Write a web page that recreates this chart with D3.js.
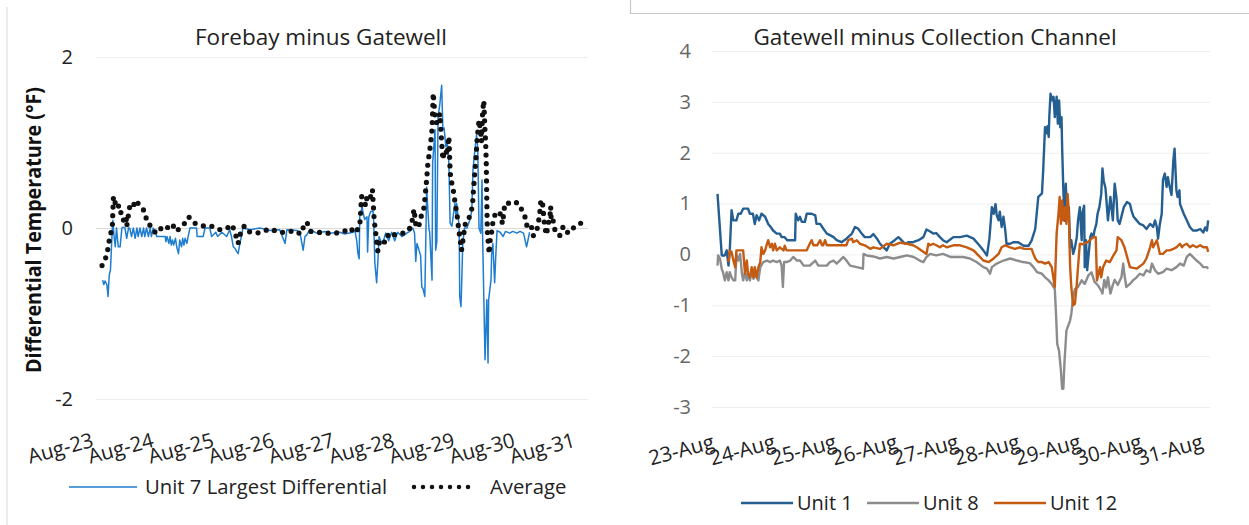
<!DOCTYPE html>
<html>
<head>
<meta charset="utf-8">
<style>
  body { margin: 0; background: #fff; }
  svg { display: block; font-family: "Open Sans", sans-serif; }
</style>
</head>
<body>
<script src="https://cdn.jsdelivr.net/npm/d3@7"></script>
<script>
// ---- data (x = days after Aug-23 00:00) ----
const leftDates = ['Aug-23','Aug-24','Aug-25','Aug-26','Aug-27','Aug-28','Aug-29','Aug-30','Aug-31'];
const rightDates = ['23-Aug','24-Aug','25-Aug','26-Aug','27-Aug','28-Aug','29-Aug','30-Aug','31-Aug'];
const leftTicks = [-2, 0, 2];
const rightTicks = [-3, -2, -1, 0, 1, 2, 3, 4];

const unit7 = [
  [0.11,-0.61],[0.13,-0.66],[0.15,-0.62],[0.18,-0.66],[0.20,-0.8],[0.22,-0.55],[0.24,-0.49],[0.27,-0.02],
  [0.28,0.09],[0.30,-0.1],[0.32,-0.22],[0.34,0],[0.37,-0.22],[0.40,-0.22],[0.43,0],[0.45,0.01],[0.48,0],
  [0.51,-0.12],[0.54,0],[0.56,0],[0.59,-0.1],[0.62,0],[0.65,-0.12],[0.68,0],[0.70,-0.1],[0.73,0],[0.76,-0.1],
  [0.79,0],[0.81,-0.1],[0.84,0],[0.87,-0.1],[0.90,0],[0.92,-0.1],[0.95,0],[0.98,-0.04],[1.01,-0.1],[1.15,-0.1],
  [1.16,-0.16],[1.18,-0.1],[1.21,-0.18],[1.23,-0.1],[1.25,-0.2],[1.27,-0.14],[1.29,-0.2],[1.32,-0.12],[1.34,-0.22],
  [1.37,-0.3],[1.39,-0.14],[1.42,-0.22],[1.44,-0.12],[1.46,-0.2],[1.48,-0.12],[1.51,-0.18],[1.53,-0.1],[1.56,0],
  [1.67,0],[1.68,-0.1],[1.78,-0.1],[1.81,0],[1.89,0],[1.92,-0.1],[1.99,-0.05],[2.02,-0.1],[2.09,-0.05],[2.17,-0.1],
  [2.22,-0.02],[2.25,-0.1],[2.28,-0.22],[2.31,-0.24],[2.34,-0.28],[2.36,-0.3],[2.39,-0.18],[2.42,-0.08],[2.44,0],
  [2.56,-0.02],[2.72,0],[2.89,-0.03],[3.05,-0.02],[3.14,-0.18],[3.17,-0.02],[3.34,-0.03],[3.39,-0.07],[3.44,-0.26],
  [3.47,-0.1],[3.50,-0.08],[3.55,-0.02],[3.67,-0.06],[3.80,-0.04],[3.88,-0.06],[4.05,-0.05],[4.13,-0.07],[4.27,-0.05],
  [4.30,-0.03],[4.33,-0.15],[4.35,-0.3],[4.37,-0.36],[4.38,0.13],[4.42,0.25],[4.43,0.2],[4.46,0.1],[4.50,0.13],
  [4.51,-0.28],[4.53,0.13],[4.56,0.19],[4.60,0.2],[4.61,0.1],[4.63,-0.4],[4.66,-0.64],[4.68,-0.4],[4.70,-0.1],
  [4.73,-0.15],[4.76,-0.18],[4.81,-0.06],[4.86,-0.15],[4.91,-0.05],[4.96,-0.15],[5.01,-0.05],[5.08,-0.1],[5.16,-0.06],
  [5.21,-0.04],[5.26,0],[5.29,-0.06],[5.31,-0.39],[5.33,-0.18],[5.36,-0.25],[5.39,-0.32],[5.41,-0.69],[5.43,-0.71],
  [5.46,-0.8],[5.48,0],[5.49,0.48],[5.53,-0.02],[5.54,-0.04],[5.58,-0.61],[5.59,0.76],[5.63,1.15],[5.64,-0.26],
  [5.66,-0.16],[5.68,1.3],[5.71,1.45],[5.74,1.67],[5.76,1.15],[5.78,1.17],[5.81,0.95],[5.83,1.03],[5.86,0.76],
  [5.88,0.06],[5.91,0.02],[5.93,0.13],[5.96,0.29],[5.98,0.13],[5.99,0.29],[6.03,0.02],[6.04,-0.8],[6.06,-0.92],
  [6.07,-0.72],[6.09,-0.18],[6.12,0],[6.16,0],[6.21,0.1],[6.24,0.2],[6.26,0.68],[6.29,0.9],[6.32,1.09],[6.34,0.93],
  [6.36,0],[6.39,-0.06],[6.41,0.56],[6.42,-0.1],[6.46,-1.54],[6.49,-0.84],[6.51,-1.58],[6.52,-0.84],[6.56,-0.6],
  [6.57,-0.3],[6.59,-0.18],[6.62,-0.64],[6.64,-0.3],[6.66,-0.03],[6.71,-0.05],[6.76,-0.1],[6.80,-0.04],[6.87,-0.06],
  [6.92,-0.04],[6.99,-0.06],[7.04,-0.04],[7.10,-0.06],[7.15,-0.22],[7.20,-0.05]
];

const average = [
  [0.10,-0.44],[0.18,-0.32],[0.23,-0.1],[0.27,0.0],[0.29,0.37],[0.32,0.29],[0.37,0.31],[0.38,0.18],[0.43,0.18],
  [0.46,0.08],[0.50,0.13],[0.51,0.02],[0.56,0.25],[0.61,0.3],[0.65,0.25],[0.68,0.3],[0.73,0.27],[0.81,0.19],
  [0.85,0.06],[0.90,0.03],[0.96,-0.04],[1.03,-0.06],[1.10,0.02],[1.18,0.0],[1.26,0.05],[1.34,-0.04],[1.39,0],
  [1.48,0.06],[1.54,0.13],[1.63,0.06],[1.69,0.04],[1.81,0.02],[1.93,0.02],[2.06,-0.02],[2.16,-0.01],[2.26,0.04],
  [2.31,-0.06],[2.36,-0.18],[2.39,-0.08],[2.46,0.02],[2.51,-0.04],[2.67,-0.06],[2.77,-0.04],[2.89,-0.01],
  [3.04,-0.05],[3.17,-0.05],[3.29,-0.03],[3.40,-0.07],[3.45,0.02],[3.50,0.07],[3.57,-0.04],[3.68,-0.05],
  [3.83,-0.06],[3.98,-0.06],[4.12,-0.04],[4.22,0],[4.30,-0.06],[4.38,0.02],[4.41,0.37],[4.44,0.33],[4.48,0.26],
  [4.50,0.37],[4.55,0.34],[4.59,0.45],[4.62,0.09],[4.68,-0.27],[4.71,-0.14],[4.75,-0.14],[4.80,-0.17],[4.83,-0.1],
  [4.90,-0.05],[4.96,-0.08],[5.10,-0.06],[5.20,-0.02],[5.26,0.11],[5.28,0.22],[5.31,0.05],[5.35,0],[5.39,0.1],
  [5.41,0.17],[5.44,0.21],[5.46,0.33],[5.49,0.56],[5.51,0.75],[5.55,0.95],[5.58,1.15],[5.60,1.58],[5.63,1.3],
  [5.65,1.23],[5.68,1.25],[5.71,1.34],[5.73,1.11],[5.76,0.8],[5.78,0.9],[5.81,0.91],[5.83,0.85],[5.86,1.07],
  [5.88,0.68],[5.89,0.58],[5.93,0.46],[5.96,0.31],[6.00,0.13],[6.02,0],[6.07,-0.26],[6.11,-0.06],[6.12,0.04],
  [6.16,0.05],[6.21,0.15],[6.25,0.25],[6.27,0.46],[6.31,0.82],[6.33,1.05],[6.36,1.26],[6.39,1.13],[6.40,1.01],
  [6.42,1.36],[6.44,1.49],[6.46,1.13],[6.47,1.01],[6.48,0.78],[6.49,0.3],[6.50,-0.06],[6.53,-0.3],[6.55,-0.1],
  [6.58,-0.02],[6.59,0.07],[6.64,0.19],[6.71,0.17],[6.75,0.05],[6.79,0.29],[6.87,0.29],[6.95,0.31],[7.04,0.27],
  [7.09,0.17],[7.14,0.11],[7.16,0],[7.23,0.02],[7.26,-0.09],[7.31,-0.06],[7.34,0.04],[7.37,0.17],[7.38,0.29],
  [7.41,0.33],[7.45,0.02],[7.48,-0.08],[7.51,0.05],[7.54,0.15],[7.55,0.25],[7.56,0.07],[7.59,0.09],[7.62,-0.02],
  [7.67,-0.04],[7.70,-0.09],[7.76,0.02],[7.84,-0.06],[7.92,0],[7.99,0.02],[8.04,0.05],[8.12,0.11]
];

const unit1 = [
  [0.09,1.19],[0.16,-0.02],[0.21,-0.02],[0.24,0.08],[0.27,-0.22],[0.29,0.05],[0.32,0.87],[0.35,0.67],[0.40,0.67],
  [0.43,0.8],[0.47,0.8],[0.51,0.9],[0.59,0.9],[0.62,0.8],[0.67,0.8],[0.70,0.6],[0.73,0.77],[0.77,0.67],[0.81,0.8],
  [0.87,0.74],[0.92,0.6],[0.96,0.54],[1.00,0.47],[1.06,0.41],[1.11,0.41],[1.14,0.34],[1.19,0.34],[1.23,0.28],
  [1.36,0.28],[1.37,0.8],[1.41,0.67],[1.44,0.74],[1.47,0.64],[1.52,0.64],[1.55,0.8],[1.63,0.8],[1.69,0.77],
  [1.71,0.6],[1.77,0.6],[1.82,0.51],[1.88,0.41],[1.93,0.38],[1.99,0.34],[2.04,0.28],[2.12,0.24],[2.20,0.31],
  [2.29,0.41],[2.34,0.54],[2.39,0.51],[2.45,0.41],[2.50,0.34],[2.59,0.34],[2.64,0.4],[2.70,0.31],[2.75,0.21],
  [2.80,0.15],[2.86,0.08],[2.91,0.21],[2.99,0.28],[3.05,0.34],[3.10,0.28],[3.16,0.21],[3.21,0.24],[3.29,0.24],
  [3.38,0.28],[3.46,0.34],[3.51,0.49],[3.57,0.45],[3.62,0.41],[3.67,0.42],[3.73,0.34],[3.78,0.28],[3.84,0.24],
  [3.95,0.34],[4.06,0.34],[4.17,0.37],[4.28,0.31],[4.36,0.2],[4.44,0.08],[4.50,-0.02],[4.54,0.31],[4.58,0.93],
  [4.61,0.8],[4.64,0.99],[4.66,0.77],[4.69,0.67],[4.71,0.84],[4.74,0.54],[4.77,0.74],[4.80,0.47],[4.82,0.21],
  [4.88,0.21],[4.93,0.24],[5.01,0.24],[5.10,0.17],[5.18,0.17],[5.23,0.27],[5.29,0.5],[5.34,1.13],[5.40,1.2],
  [5.42,1.65],[5.45,2.5],[5.47,2.38],[5.49,2.52],[5.51,2.31],[5.52,2.7],[5.54,3.16],[5.57,3.03],[5.59,3.1],
  [5.61,2.7],[5.64,3.1],[5.66,2.57],[5.68,3.03],[5.70,2.5],[5.72,2.7],[5.73,2.11],[5.75,1.26],[5.77,0.66],
  [5.79,1.39],[5.80,1.06],[5.82,0.84],[5.84,0.93],[5.86,0.14],[5.88,0.28],[5.91,0.01],[5.94,0.14],[5.97,0.34],
  [5.99,0.67],[6.02,0.93],[6.05,0.28],[6.06,0.8],[6.09,0.96],[6.10,-0.25],[6.12,0.28],[6.14,-0.31],[6.19,0.34],
  [6.21,0.41],[6.24,0.34],[6.26,0.47],[6.29,0.6],[6.31,0.8],[6.34,0.93],[6.37,1.19],[6.39,1.69],[6.41,1.45],
  [6.44,1.3],[6.48,0.67],[6.52,1.13],[6.56,0.67],[6.59,1.39],[6.62,1.1],[6.64,0.67],[6.67,0.6],[6.74,0.93],
  [6.79,1.03],[6.84,0.99],[6.87,0.84],[6.90,0.74],[6.95,0.67],[7.00,0.6],[7.06,0.57],[7.11,0.5],[7.17,0.6],
  [7.22,0.54],[7.25,0.67],[7.28,0.54],[7.30,0.31],[7.33,0.6],[7.36,0.8],[7.38,1.46],[7.41,1.59],[7.44,1.33],
  [7.46,1.52],[7.49,1.33],[7.52,1.17],[7.55,1.85],[7.57,2.08],[7.60,1.26],[7.62,1.13],[7.65,1.26],[7.66,0.99],
  [7.72,0.8],[7.77,0.67],[7.82,0.54],[7.87,0.47],[7.93,0.47],[7.99,0.5],[8.04,0.43],[8.07,0.53],[8.10,0.47],
  [8.12,0.67]
];

const unit8 = [
  [0.09,-0.22],[0.10,-0.02],[0.13,-0.08],[0.16,-0.29],[0.18,-0.35],[0.21,-0.51],[0.24,-0.35],[0.27,-0.51],
  [0.29,-0.35],[0.32,-0.45],[0.35,-0.51],[0.38,-0.51],[0.40,0.0],[0.43,-0.12],[0.46,0.01],[0.49,-0.38],
  [0.51,-0.51],[0.54,-0.35],[0.57,-0.51],[0.59,-0.38],[0.62,-0.51],[0.65,-0.35],[0.68,-0.48],[0.70,-0.38],
  [0.73,-0.45],[0.76,-0.51],[0.79,-0.25],[0.84,-0.15],[0.90,-0.12],[0.95,-0.15],[1.00,-0.12],[1.06,-0.15],
  [1.11,-0.12],[1.14,-0.22],[1.16,-0.64],[1.18,-0.15],[1.22,-0.15],[1.28,-0.12],[1.33,-0.05],[1.39,-0.12],
  [1.44,-0.12],[1.50,-0.22],[1.60,-0.22],[1.69,-0.12],[1.74,-0.22],[1.88,-0.22],[1.93,-0.15],[1.99,-0.12],
  [2.04,-0.18],[2.09,-0.12],[2.15,-0.05],[2.20,-0.12],[2.26,-0.22],[2.37,-0.25],[2.47,-0.28],[2.48,0.01],
  [2.53,-0.02],[2.64,-0.04],[2.75,-0.08],[2.86,-0.05],[2.97,-0.08],[3.08,-0.05],[3.19,-0.02],[3.30,-0.05],
  [3.40,-0.12],[3.46,-0.15],[3.51,-0.05],[3.57,0.01],[3.67,-0.02],[3.78,0.01],[3.90,-0.05],[4.00,-0.05],
  [4.11,-0.05],[4.22,-0.08],[4.33,-0.15],[4.44,-0.25],[4.50,-0.28],[4.55,-0.38],[4.58,-0.25],[4.66,-0.18],
  [4.77,-0.12],[4.88,-0.08],[4.99,-0.12],[5.09,-0.15],[5.20,-0.17],[5.26,-0.25],[5.32,-0.35],[5.40,-0.38],
  [5.45,-0.45],[5.51,-0.51],[5.56,-0.58],[5.61,-0.68],[5.63,-1.17],[5.65,-1.76],[5.68,-1.9],[5.71,-2.28],
  [5.73,-2.64],[5.75,-2.64],[5.77,-2.09],[5.80,-1.5],[5.86,-1.3],[5.88,-1.17],[5.91,-0.84],[5.94,-0.68],
  [5.99,-0.64],[6.05,-0.51],[6.10,-0.58],[6.16,-0.41],[6.21,-0.35],[6.26,-0.54],[6.31,-0.6],[6.37,-0.71],
  [6.39,-0.77],[6.42,-0.5],[6.45,-0.65],[6.48,-0.45],[6.52,-0.77],[6.56,-0.6],[6.59,-0.5],[6.64,-0.6],
  [6.70,-0.45],[6.73,-0.18],[6.75,-0.4],[6.78,-0.64],[6.84,-0.58],[6.89,-0.51],[6.95,-0.45],[7.00,-0.38],
  [7.06,-0.41],[7.11,-0.31],[7.17,-0.35],[7.20,-0.18],[7.25,-0.31],[7.30,-0.38],[7.38,-0.35],[7.44,-0.28],
  [7.52,-0.31],[7.60,-0.25],[7.66,-0.18],[7.72,-0.22],[7.77,-0.05],[7.82,0.01],[7.87,-0.05],[7.93,-0.12],
  [7.99,-0.18],[8.04,-0.25],[8.10,-0.25],[8.12,-0.28]
];

const unit12 = [
  [0.27,-0.15],[0.29,0.08],[0.32,0.05],[0.35,-0.12],[0.38,-0.25],[0.40,0.08],[0.51,0.08],[0.54,-0.38],
  [0.57,-0.12],[0.59,-0.38],[0.62,-0.45],[0.65,-0.25],[0.68,-0.45],[0.70,-0.25],[0.73,-0.45],[0.76,-0.25],
  [0.79,-0.15],[0.81,0.14],[0.84,0.01],[0.87,0.08],[0.90,0.21],[0.92,0.28],[0.95,0.14],[0.98,0.21],[1.00,0.08],
  [1.03,0.21],[1.06,0.08],[1.11,0.14],[1.17,0.08],[1.19,0.17],[1.22,0.08],[1.28,0.08],[1.55,0.08],[1.60,0.21],
  [1.63,0.28],[1.66,0.18],[1.72,0.18],[1.77,0.28],[1.80,0.18],[1.82,0.18],[1.85,0.28],[1.88,0.18],[2.20,0.18],
  [2.23,0.28],[2.29,0.31],[2.31,0.24],[2.37,0.28],[2.42,0.21],[2.50,0.18],[2.59,0.11],[2.64,0.14],[2.75,0.11],
  [2.86,0.21],[2.97,0.18],[3.08,0.23],[3.19,0.21],[3.29,0.18],[3.35,0.14],[3.51,0.01],[3.54,0.21],[3.57,0.18],
  [3.62,0.21],[3.67,0.18],[3.73,0.14],[3.78,0.18],[3.84,0.14],[3.95,0.18],[4.06,0.18],[4.17,0.14],[4.28,0.08],
  [4.36,-0.02],[4.44,-0.12],[4.53,-0.15],[4.61,-0.08],[4.69,0.01],[4.74,0.14],[4.80,0.18],[4.88,0.14],
  [4.96,0.11],[5.04,0.14],[5.11,0.11],[5.23,0.11],[5.26,0.01],[5.29,-0.08],[5.34,-0.15],[5.40,-0.15],
  [5.45,-0.18],[5.51,-0.15],[5.56,-0.25],[5.61,-0.64],[5.64,0.41],[5.67,0.8],[5.69,1.13],[5.71,0.6],[5.73,1.06],
  [5.75,0.67],[5.78,0.93],[5.80,0.6],[5.82,1.19],[5.84,0.8],[5.86,-0.22],[5.88,-0.64],[5.91,-1.0],[5.94,-0.97],
  [5.97,-0.58],[5.99,-0.25],[6.02,0.21],[6.07,0.2],[6.15,0.24],[6.24,0.34],[6.28,0.34],[6.30,-0.51],[6.35,-0.25],
  [6.37,-0.45],[6.40,-0.25],[6.45,-0.12],[6.51,-0.15],[6.57,-0.02],[6.62,0.08],[6.64,0.34],[6.70,0.28],
  [6.75,0.14],[6.78,0.01],[6.84,-0.25],[6.95,-0.28],[7.06,-0.18],[7.11,-0.08],[7.17,0.14],[7.20,0.28],
  [7.22,0.14],[7.28,0.28],[7.33,0.01],[7.38,0.01],[7.44,0.08],[7.49,0.08],[7.55,0.11],[7.60,0.14],[7.66,0.21],
  [7.69,0.14],[7.72,0.18],[7.77,0.21],[7.82,0.14],[7.87,0.18],[7.93,0.14],[7.99,0.18],[8.04,0.14],[8.10,0.14],
  [8.12,0.05]
];

const W = 1249, H = 525;
const svg = d3.select('body').append('svg').attr('width', W).attr('height', H);

// panel outlines
svg.append('line').attr('x1', 7).attr('x2', 7).attr('y1', 7).attr('y2', H)
  .attr('stroke', '#d9d9d9').attr('stroke-width', 1);
svg.append('path').attr('d', 'M630.5,0V13.5H1249')
  .attr('fill', 'none').attr('stroke', '#c8c8c8').attr('stroke-width', 1.2);

function drawPanel(cfg) {
  const g = svg.append('g');
  const x = d3.scaleLinear().domain(cfg.xDomain).range(cfg.xRange);
  const y = d3.scaleLinear().domain(cfg.yDomain).range(cfg.yRange);

  // y gridlines + labels
  const yAxis = g.append('g')
    .attr('transform', `translate(${cfg.xRange[0]},0)`)
    .call(d3.axisLeft(y).tickValues(cfg.yTicks).tickFormat(d => String(d))
      .tickSize(-(cfg.xRange[1] - cfg.xRange[0])).tickPadding(cfg.yPad));
  yAxis.select('.domain').remove();
  yAxis.selectAll('line').attr('stroke', d => (cfg.zeroLine && d === 0) ? '#d9d9d9' : '#eeeeee');
  yAxis.selectAll('text').attr('font-size', 20).attr('fill', cfg.yColor)
    .attr('font-family', '"Open Sans", sans-serif');

  // x labels (rotated)
  const xAxis = g.append('g')
    .attr('transform', `translate(0,${cfg.xLabelY})`)
    .call(d3.axisBottom(x).tickValues(d3.range(cfg.dates.length))
      .tickFormat(i => cfg.dates[i]).tickSize(0));
  xAxis.select('.domain').remove();
  xAxis.selectAll('text')
    .attr('y', 0).attr('dy', null).attr('x', cfg.xLabelDx)
    .attr('text-anchor', 'end')
    .attr('transform', 'rotate(-15)')
    .attr('font-size', 20.5).attr('fill', '#222')
    .attr('font-family', '"Open Sans", sans-serif');

  // title
  g.append('text').attr('x', cfg.titleX).attr('y', 45)
    .attr('text-anchor', 'middle').attr('font-size', 22.5).attr('fill', '#222')
    .text(cfg.title);

  const line = d3.line().x(d => x(d[0])).y(d => y(d[1]));
  return { g, x, y, line };
}

// ---------- left chart ----------
const L = drawPanel({
  xDomain: [0, 8.17], xRange: [96, 588],
  yDomain: [-2, 2], yRange: [399, 57],
  yTicks: leftTicks, yPad: 23, yColor: '#222', zeroLine: true,
  dates: leftDates, xLabelY: 446, xLabelDx: -2,
  title: 'Forebay minus Gatewell', titleX: 321
});

L.g.append('text')
  .attr('transform', 'translate(41,230) rotate(-90)')
  .attr('text-anchor', 'middle').attr('font-size', 21.5).attr('font-weight', 'bold')
  .attr('textLength', 286).attr('lengthAdjust', 'spacingAndGlyphs')
  .attr('fill', '#111')
  .text('Differential Temperature (°F)');

L.g.append('path').datum(unit7)
  .attr('fill', 'none').attr('stroke', '#1f7dd0').attr('stroke-width', 1.5)
  .attr('stroke-linejoin', 'round')
  .attr('d', L.line);

L.g.append('path').datum(average)
  .attr('fill', 'none').attr('stroke', '#111').attr('stroke-width', 5.2)
  .attr('stroke-linecap', 'round').attr('stroke-dasharray', '0 8.6')
  .attr('d', L.line);

// left legend
const lg = L.g.append('g');
lg.append('line').attr('x1', 69).attr('x2', 137).attr('y1', 487).attr('y2', 487)
  .attr('stroke', '#1f7dd0').attr('stroke-width', 1.5);
lg.append('text').attr('x', 145).attr('y', 494).attr('font-size', 20.3).attr('fill', '#222')
  .text('Unit 7 Largest Differential');
lg.append('line').attr('x1', 414).attr('x2', 469).attr('y1', 487).attr('y2', 487)
  .attr('stroke', '#111').attr('stroke-width', 4.5)
  .attr('stroke-linecap', 'round').attr('stroke-dasharray', '0 9');
lg.append('text').attr('x', 490).attr('y', 494).attr('font-size', 20.3).attr('fill', '#222')
  .text('Average');

// ---------- right chart ----------
const R = drawPanel({
  xDomain: [0, 8.15], xRange: [712, 1210],
  yDomain: [-3, 4], yRange: [407, 51],
  yTicks: rightTicks, yPad: 21, yColor: '#666', zeroLine: false,
  dates: rightDates, xLabelY: 449, xLabelDx: 3,
  title: 'Gatewell minus Collection Channel', titleX: 935
});

const rightSeries = [
  { name: 'Unit 1', data: unit1, color: '#255e91' },
  { name: 'Unit 8', data: unit8, color: '#8c8c8c' },
  { name: 'Unit 12', data: unit12, color: '#c55a11' }
];

R.g.selectAll('.series').data(rightSeries).join('path')
  .attr('class', 'series')
  .attr('fill', 'none').attr('stroke', d => d.color).attr('stroke-width', 2.4)
  .attr('stroke-linejoin', 'round')
  .attr('d', d => R.line(d.data));

const legendX = [741, 867, 994];
const rl = R.g.selectAll('.leg').data(rightSeries).join('g')
  .attr('class', 'leg')
  .attr('transform', (d, i) => `translate(${legendX[i]},503)`);
rl.append('line').attr('x1', 0).attr('x2', 52)
  .attr('stroke', d => d.color).attr('stroke-width', 2.4);
rl.append('text').attr('x', 56).attr('y', 7).attr('font-size', 20).attr('fill', '#222')
  .text(d => d.name);
</script>
</body>
</html>
